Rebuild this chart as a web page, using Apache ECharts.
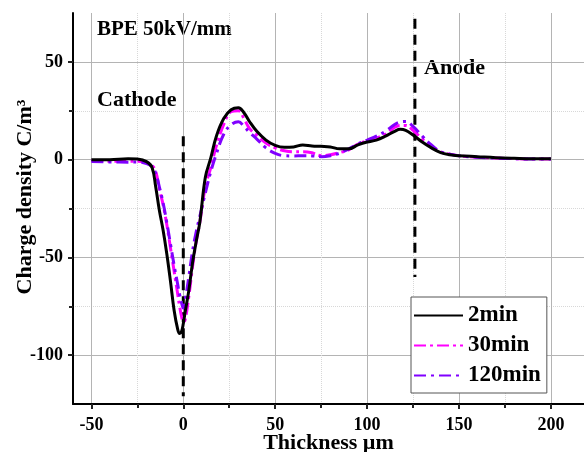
<!DOCTYPE html>
<html>
<head>
<meta charset="utf-8">
<script src="https://cdn.jsdelivr.net/npm/echarts@6/dist/echarts.min.js"></script>
<style>
  html, body { margin: 0; padding: 0; background: #fff; }
  #chart { width: 584px; height: 452px; }
</style>
</head>
<body>
<div id="chart"></div>
<script>
// thickness positions (µm) shared by the three curves
var thickness = [-50, -40, -30, -25, -20, -17, -15, -13, -11, -9, -7, -5, -3, -2, -1, 0, 1, 3, 5, 7, 9, 12, 15, 18, 22, 26, 30, 33, 36, 40, 45, 50, 55, 60, 65, 70, 75, 80, 85, 90, 95, 100, 105, 110, 115, 118, 121, 125, 130, 135, 140, 145, 150, 160, 170, 180, 190, 200];

var min2 = [0, 0, 0.5, 0.3, -1, -4, -14, -26, -36, -48, -62, -77, -87, -89, -88, -84, -78, -67, -53, -42, -32, -9, 1, 12, 21, 25.5, 26.5, 24, 19.5, 14.5, 10, 7.3, 6.3, 6.5, 7.5, 7, 6.8, 6.5, 5.5, 5.5, 7.5, 9, 10, 12, 14.5, 15.5, 15, 12.6, 9, 6, 3.6, 2.5, 2, 1.5, 1, 0.7, 0.5, 0.5];

var min30 = [-0.5, -0.8, -0.8, -0.8, -1.5, -3, -6, -15, -23, -33, -45, -57, -69, -75, -80, -83, -82, -70, -55, -42, -32, -14, -4, 7, 18, 24.5, 25, 21, 16, 12.5, 8.5, 6, 4.5, 4, 4, 3.5, 2, 2.5, 3.6, 5, 8, 9.5, 11, 13, 16.5, 17.5, 17.5, 15, 10.5, 7, 4, 2.8, 2, 1.2, 0.8, 0.5, 0.3, 0.3];

var min120 = [-1, -1.2, -1.3, -1.2, -2, -3.5, -7, -14, -22, -32, -43, -54, -64, -69, -73, -76, -72, -60, -47, -37, -29, -17, -6, 3, 13, 17.8, 19.4, 17, 14, 10.5, 6, 3.2, 2, 1.9, 2, 1.9, 1.5, 2, 3.3, 5.5, 8, 10, 12, 14.5, 18, 19.3, 19.5, 17, 12, 7.5, 4, 2.8, 2, 1.2, 0.8, 0.5, 0.3, 0.3];

var seriesNames = ['2min', '30min', '120min'];

// electrode positions (dashed markers)
var cathodeLine = [[0, 12], [0, -121]];
var anodeLine = [[126, 72], [126, -60]];

var xMajor = [-50, 0, 50, 100, 150, 200];
var xMinor = [-25, 25, 75, 125, 175];
var yMajor = [-100, -50, 0, 50];
var yMinor = [-75, -25, 25];

var FONT = 'Liberation Serif, Times New Roman, serif';

function pairs(ys) {
  return thickness.map(function (x, i) { return [x, ys[i]]; });
}

var chart = echarts.init(document.getElementById('chart'));

var xBase = {
  type: 'value', min: -60, max: 218, position: 'bottom'
};
var yBase = {
  type: 'value', min: -125, max: 75, position: 'left'
};

chart.setOption({
  animation: false,
  backgroundColor: '#fff',
  grid: { left: 73, top: 13, right: 0, bottom: 48, containLabel: false, outerBoundsMode: 'none' },
  xAxis: [
    Object.assign({}, xBase, {
      name: 'Thickness µm',
      nameLocation: 'middle',
      nameGap: 28,
      nameMoveOverlap: false,
      nameTextStyle: { fontFamily: FONT, fontWeight: 'bold', fontSize: 22, color: '#000' },
      axisLine: { onZero: false, lineStyle: { color: '#000', width: 2 } },
      axisTick: { customValues: xMajor, length: 5, lineStyle: { color: '#222', width: 2 } },
      axisLabel: { customValues: xMajor, margin: 12, fontFamily: FONT, fontWeight: 'bold', fontSize: 18, color: '#000' },
      splitLine: { show: true, lineStyle: { color: '#b4b4b4', width: 1 } }
    }),
    Object.assign({}, xBase, {
      axisLine: { show: false, onZero: false },
      axisTick: { customValues: xMinor, length: 4, lineStyle: { color: '#222', width: 2 } },
      axisLabel: { show: false },
      splitLine: { show: true, lineStyle: { color: '#d8d8d8', width: 1, type: 'dotted' } }
    })
  ],
  yAxis: [
    Object.assign({}, yBase, {
      axisLine: { onZero: false, lineStyle: { color: '#000', width: 2 } },
      axisTick: { customValues: yMajor, length: 5, lineStyle: { color: '#222', width: 2 } },
      axisLabel: { customValues: yMajor, margin: 10, fontFamily: FONT, fontWeight: 'bold', fontSize: 18, color: '#000' },
      splitLine: { show: true, lineStyle: { color: '#b4b4b4', width: 1 } }
    }),
    Object.assign({}, yBase, {
      axisLine: { show: false, onZero: false },
      axisTick: { customValues: yMinor, length: 4, lineStyle: { color: '#222', width: 2 } },
      axisLabel: { show: false },
      splitLine: { show: true, lineStyle: { color: '#d8d8d8', width: 1, type: 'dotted' } }
    })
  ],
  legend: {
    data: seriesNames,
    orient: 'vertical',
    left: 411,
    top: 297,
    padding: [7, 6, 6, 2],
    itemWidth: 49,
    itemHeight: 14,
    itemGap: 7,
    borderColor: '#555',
    borderWidth: 1,
    borderRadius: 0,
    backgroundColor: '#fff',
    itemStyle: { opacity: 0 },
    textStyle: { fontFamily: FONT, fontWeight: 'bold', fontSize: 23, color: '#000' }
  },
  graphic: [
    { type: 'text', left: 97, top: 19, style: { text: 'BPE 50kV/mm', font: 'bold 21px ' + FONT, fill: '#000' } },
    { type: 'text', left: 97, top: 89, style: { text: 'Cathode', font: 'bold 22px ' + FONT, fill: '#000' } },
    { type: 'text', left: 424, top: 57, style: { text: 'Anode', font: 'bold 22px ' + FONT, fill: '#000' } },
    {
      type: 'text', x: 25, y: 197, rotation: Math.PI / 2,
      style: { text: 'Charge density C/m³', font: 'bold 22px ' + FONT, fill: '#000', align: 'center', verticalAlign: 'middle' }
    }
  ],
  series: [
    {
      name: 'electrode-c', type: 'line', data: cathodeLine, symbol: 'none', silent: true, z: 1,
      lineStyle: { color: '#000', width: 3, type: [10, 6] }
    },
    {
      name: 'electrode-a', type: 'line', data: anodeLine, symbol: 'none', silent: true, z: 1,
      lineStyle: { color: '#000', width: 3, type: [10, 6] }
    },
    {
      name: '2min', type: 'line', data: pairs(min2), smooth: 0.4, symbol: 'none', z: 4,
      itemStyle: { color: '#000' },
      lineStyle: { color: '#000', width: 3 }
    },
    {
      name: '30min', type: 'line', data: pairs(min30), smooth: 0.4, symbol: 'none', z: 3,
      itemStyle: { color: '#ff00ff' },
      lineStyle: { color: '#ff00ff', width: 3, type: [12, 4, 3, 4] }
    },
    {
      name: '120min', type: 'line', data: pairs(min120), smooth: 0.4, symbol: 'none', z: 3,
      itemStyle: { color: '#8000ff' },
      lineStyle: { color: '#8000ff', width: 3, type: [12, 5, 3, 5] }
    }
  ]
});
</script>
</body>
</html>
